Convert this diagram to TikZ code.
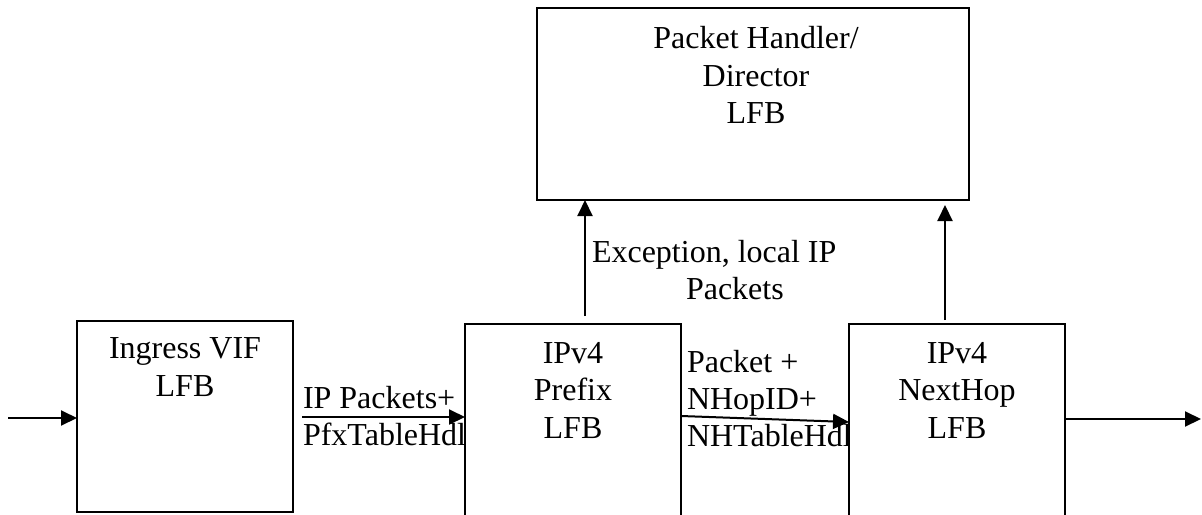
\documentclass[tikz,border=0pt]{standalone}
\usepackage{fontspec}
\setmainfont{Liberation Serif}
\usetikzlibrary{arrows.meta}
\begin{document}
\begin{tikzpicture}[x=1pt,y=-1pt,
  every node/.style={inner sep=0pt,outer sep=0pt},
  txt/.style={font=\fontsize{32}{37.5}\selectfont,align=center},
  txtl/.style={font=\fontsize{32}{37}\selectfont,align=left},
  box/.style={draw,line width=2pt,fill=white,rectangle},
  arr/.style={line width=2pt,-{Triangle[length=16pt,width=15pt]}}]
\useasboundingbox (0,0) rectangle (1202,514);
\clip (0,0) rectangle (1202,514);
% connector labels (drawn first, boxes overlap them)
\node[txtl,anchor=north west] (lblA) at (303,386.5) {IP Packets+\\PfxTableHdl};
\node[txtl,anchor=north west] (lblB) at (687,350.5) {Packet +\\NHopID+\\NHTableHdl};
\node[txtl,anchor=north west] (lblC) at (592,240.5) {Exception, local IP\\\hspace*{94pt}Packets};
% boxes
\node[box,minimum width=432pt,minimum height=192pt] (phd) at (753,104) {};
\node[box,minimum width=216pt,minimum height=191pt] (ing) at (185,416.5) {};
\node[box,minimum width=216pt,minimum height=220pt] (pfx) at (573,434) {};
\node[box,minimum width=216pt,minimum height=220pt] (nh) at (957,434) {};
% box texts
\node[txt,anchor=north] (tphd) at (756,26.5) {Packet Handler/\\Director\\LFB};
\node[txt,anchor=north] (ting) at (185,338) {Ingress VIF\\LFB};
\node[txt,anchor=north] (tpfx) at (573,342) {IPv4\\Prefix\\LFB};
\node[txt,anchor=north] (tnh) at (957,342) {IPv4\\NextHop\\LFB};
% free ends
\coordinate (in) at (8,418);
\coordinate (aS) at (302,417);
\coordinate (bS) at (681,416);
\coordinate (bE) at (849,422);
\coordinate (out) at (1201,419);
\coordinate (cS) at (585,316);
\coordinate (dS) at (945,320);
% connectors
\draw[arr] (in) -- (in -| ing.west);
\draw[arr] (aS) -- (aS -| pfx.west);
\draw[arr] (bS -| pfx.east) -- (bE -| nh.west);
\draw[arr] (out -| nh.east) -- (out);
\draw[arr] (cS) -- (cS |- phd.south);
\draw[arr,shorten >=5pt] (dS) -- (dS |- phd.south);
\end{tikzpicture}
\end{document}
